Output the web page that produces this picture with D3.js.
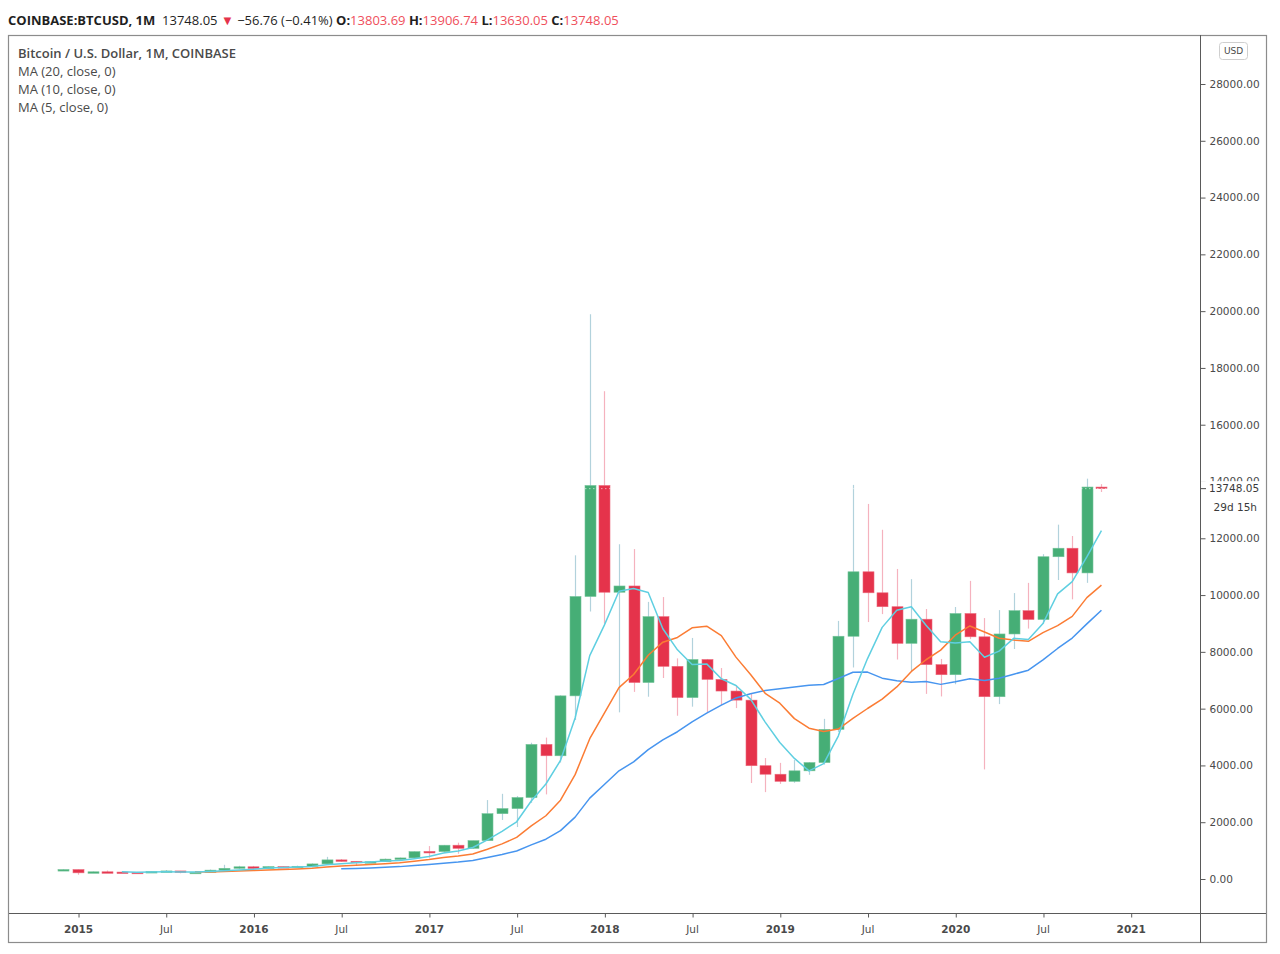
<!DOCTYPE html>
<html>
<head>
<meta charset="utf-8">
<script src="https://cdnjs.cloudflare.com/ajax/libs/d3/7.8.5/d3.min.js"></script>
<style>
  body { margin: 0; background: #fff; }
  svg { display: block; }
</style>
</head>
<body>
<svg id="chart" width="1280" height="954"></svg>
<script>
// monthly candles, Dec 2014 .. Nov 2020
var months = ["2014-12",
  "2015-01","2015-02","2015-03","2015-04","2015-05","2015-06","2015-07","2015-08","2015-09","2015-10","2015-11","2015-12",
  "2016-01","2016-02","2016-03","2016-04","2016-05","2016-06","2016-07","2016-08","2016-09","2016-10","2016-11","2016-12",
  "2017-01","2017-02","2017-03","2017-04","2017-05","2017-06","2017-07","2017-08","2017-09","2017-10","2017-11","2017-12",
  "2018-01","2018-02","2018-03","2018-04","2018-05","2018-06","2018-07","2018-08","2018-09","2018-10","2018-11","2018-12",
  "2019-01","2019-02","2019-03","2019-04","2019-05","2019-06","2019-07","2019-08","2019-09","2019-10","2019-11","2019-12",
  "2020-01","2020-02","2020-03","2020-04","2020-05","2020-06","2020-07","2020-08","2020-09","2020-10","2020-11"];

var open = [300,
  332,217,254,244,236,230,263,284,230,236,312,377,
  430,368,437,416,448,531,673,624,573,608,700,742,
  970,965,1190,1080,1350,2300,2480,2870,4740,4340,6450,9950,
  13860,10100,10320,6920,9240,7490,6390,7730,7030,6620,6300,3990,
  3690,3440,3810,4100,5270,8550,10820,10080,9590,8300,9150,7550,
  7195,9350,8530,6420,8630,9450,9140,11350,11650,10780,13803.69];

var high = [345,
  334,265,300,261,248,268,318,285,244,334,500,465,
  460,445,440,470,550,780,703,624,630,720,755,975,
  1160,1200,1280,1350,2780,3000,2920,4800,4980,6470,11400,19892,
  17180,11790,11620,9760,9930,7770,8490,7750,7430,6830,6550,4260,
  4090,4190,4120,5640,9090,13880,13210,12300,10920,10560,9510,7750,
  9580,10500,9190,9470,10070,10430,11440,12480,12080,14100,13906.74];

var low = [296,
  150,212,236,214,227,221,253,200,225,236,300,350,
  350,365,395,412,436,528,600,470,565,602,680,740,
  750,920,890,1060,1340,2080,1830,2680,2980,4100,5600,9420,
  9000,5870,6590,6420,7080,5750,6070,5880,6130,6020,3380,3060,
  3350,3390,3670,4030,5180,7450,9050,9330,7730,7300,6520,6430,
  6860,8450,3860,6160,8100,8820,8980,10530,9850,10430,13630.05];

var close = [332,
  217,254,244,236,230,263,284,230,236,312,377,430,
  368,437,416,448,531,673,624,573,608,700,742,963,
  965,1190,1080,1350,2300,2480,2870,4740,4340,6450,9950,13860,
  10100,10320,6920,9240,7490,6390,7730,7030,6620,6300,3990,3690,
  3440,3810,4100,5270,8550,10820,10080,9590,8300,9150,7550,7195,
  9350,8530,6420,8630,9450,9140,11350,11650,10780,13804.81,13748.05];

var maPeriods = [20, 10, 5];
var maColors = ["#4795ef", "#fb7c34", "#5fcfe1"];
var priceTicks = d3.range(0, 28001, 2000);

(function() {
var upColor = "#46ae76", downColor = "#e5334b";
var upWick = "#b2d2dc", downWick = "#f5b2be";
var fontAxis = "'DejaVu Sans', Verdana, sans-serif";
var fontHead = "'Open Sans', 'Noto Sans', sans-serif";

var svg = d3.select("#chart");
var frameL = 9, frameR = 1266, frameT = 35, frameB = 943;
var plotR = 1200, plotB = 913;

var x = d3.scaleLinear().domain([0, 73]).range([63.4, 1130.7]);
var y = d3.scaleLinear().domain([0, 28000]).range([879, 84]);
var bodyW = 11;
var n = close.length;

var candles = months.map(function(m, i) {
  return { i: i, m: m, o: open[i], h: high[i], l: low[i], c: close[i] };
});

function sma(p) {
  var out = [];
  for (var i = p - 1; i < n; i++) {
    out.push({ i: i, v: d3.mean(close.slice(i - p + 1, i + 1)) });
  }
  return out;
}

svg.append("defs").append("clipPath").attr("id", "plotclip")
  .append("rect").attr("x", frameL).attr("y", frameT)
  .attr("width", plotR - frameL).attr("height", plotB - frameT);

var plot = svg.append("g").attr("clip-path", "url(#plotclip)");

// candles
var cx = d => Math.round(x(d.i)) + 0.5;
plot.selectAll("line.wick").data(candles).join("line")
  .attr("class", "wick")
  .attr("x1", cx).attr("x2", cx)
  .attr("y1", d => y(d.h)).attr("y2", d => y(d.l))
  .attr("stroke", d => d.c >= d.o ? upWick : downWick)
  .attr("stroke-width", 1.2);

plot.selectAll("rect.body").data(candles).join("rect")
  .attr("class", "body")
  .attr("x", d => cx(d) - bodyW / 2)
  .attr("width", bodyW)
  .attr("y", d => y(Math.max(d.o, d.c)))
  .attr("height", d => Math.max(1.5, Math.abs(y(d.o) - y(d.c))))
  .attr("fill", d => d.c >= d.o ? upColor : downColor)
  .attr("stroke", d => d.c >= d.o ? "#74c39a" : "#ec6a7d")
  .attr("stroke-width", 0.6);

// last price dotted line
var last = close[n - 1];
plot.append("line")
  .attr("x1", frameL).attr("x2", plotR)
  .attr("y1", y(last)).attr("y2", y(last))
  .attr("stroke", "#ffffff").attr("stroke-opacity", 0.55)
  .attr("stroke-dasharray", "1.5,2.5").attr("stroke-width", 1);

// MA lines
var line = d3.line().x(d => x(d.i)).y(d => y(d.v));
maPeriods.forEach(function(p, k) {
  plot.append("path")
    .datum(sma(p))
    .attr("d", line)
    .attr("fill", "none")
    .attr("stroke", maColors[k])
    .attr("stroke-width", 1.5)
    .attr("stroke-linejoin", "round");
});

// frame
svg.append("rect")
  .attr("x", frameL - 0.5).attr("y", frameT + 0.5)
  .attr("width", frameR - frameL + 1).attr("height", frameB - frameT - 1)
  .attr("fill", "none").attr("stroke", "#8c8c8c").attr("stroke-width", 1.2);
svg.append("line").attr("x1", plotR + 0.5).attr("x2", plotR + 0.5)
  .attr("y1", frameT).attr("y2", frameB).attr("stroke", "#5a5a5a");
svg.append("line").attr("x1", frameL).attr("x2", frameR)
  .attr("y1", plotB + 0.5).attr("y2", plotB + 0.5).attr("stroke", "#5a5a5a");

// time axis
var xAxis = d3.axisBottom(x)
  .tickValues(d3.range(1, 74, 6))
  .tickSize(4)
  .tickPadding(8)
  .tickFormat(function(i) {
    return (i + 11) % 12 === 0 ? String(2014 + Math.floor((i + 11) / 12)) : "Jul";
  });
var gx = svg.append("g").attr("transform", "translate(0," + (plotB + 0.5) + ")").call(xAxis);
gx.select(".domain").remove();
gx.selectAll(".tick line").attr("stroke", "#5a5a5a").attr("transform", "translate(0.5,0)");
gx.selectAll(".tick text")
  .attr("fill", "#4a4a4a")
  .style("font-family", fontAxis)
  .style("font-size", "10.5px")
  .style("font-weight", i => (i + 11) % 12 === 0 ? "bold" : "normal");

// price axis
var yAxis = d3.axisRight(y)
  .tickValues(priceTicks)
  .tickSize(5)
  .tickPadding(4)
  .tickFormat(d3.format(".2f"));
var gy = svg.append("g").attr("transform", "translate(" + (plotR + 0.5) + ",0)").call(yAxis);
gy.select(".domain").remove();
gy.selectAll(".tick line").attr("stroke", "#5a5a5a");
gy.selectAll(".tick text")
  .attr("fill", "#4a4a4a")
  .style("font-family", fontAxis)
  .style("font-size", "10.5px");

// last price label (covers part of the 14000 label, as in the original)
var ly = y(last);
svg.append("rect").attr("x", plotR + 1).attr("y", ly - 7.5)
  .attr("width", frameR - plotR - 2).attr("height", 35).attr("fill", "#fff");
svg.append("line").attr("x1", plotR + 1).attr("x2", plotR + 6)
  .attr("y1", ly).attr("y2", ly).attr("stroke", "#4a4a4a");
svg.append("text").attr("x", plotR + 9).attr("y", ly).attr("dy", "0.35em")
  .attr("fill", "#3a3a3a")
  .style("font-family", fontAxis).style("font-size", "10.5px")
  .text(d3.format(".2f")(last));
svg.append("text").attr("x", 1257).attr("y", ly + 19).attr("dy", "0.35em")
  .attr("text-anchor", "end")
  .attr("fill", "#3a3a3a")
  .style("font-family", fontAxis).style("font-size", "10.5px")
  .text("29d 15h");

// USD badge
svg.append("rect").attr("x", 1219.5).attr("y", 42.5).attr("width", 28).attr("height", 17)
  .attr("rx", 3).attr("fill", "#fff").attr("stroke", "#cfcfcf");
svg.append("text").attr("x", 1233.5).attr("y", 51).attr("dy", "0.35em")
  .attr("text-anchor", "middle").attr("fill", "#4a4a4a")
  .style("font-family", fontAxis).style("font-size", "9px")
  .text("USD");

// header
var f2 = d3.format(".2f");
var chg = last - close[n - 2];
var pct = chg / close[n - 2] * 100;
var red = "#ef4f5c", ink = "#1f1f1f";
var parts = [
  ["COINBASE:BTCUSD, 1M", "bold", ink],
  ["  " + f2(last) + " ", "normal", ink],
  ["\u25BC", "normal", downColor],
  [" \u2212" + f2(Math.abs(chg)) + " (\u2212" + f2(Math.abs(pct)) + "%) ", "normal", ink],
  ["O:", "bold", ink], [f2(open[n - 1]) + " ", "normal", red],
  ["H:", "bold", ink], [f2(high[n - 1]) + " ", "normal", red],
  ["L:", "bold", ink], [f2(low[n - 1]) + " ", "normal", red],
  ["C:", "bold", ink], [f2(close[n - 1]), "normal", red]
];
var head = svg.append("text").attr("x", 8).attr("y", 20).attr("dy", "0.35em")
  .attr("xml:space", "preserve")
  .style("font-family", fontHead).style("font-size", "13px");
parts.forEach(function(p) {
  head.append("tspan").style("font-weight", p[1]).attr("fill", p[2]).text(p[0]);
});

// legend
var legend = ["Bitcoin / U.S. Dollar, 1M, COINBASE"].concat(maPeriods.map(p => "MA (" + p + ", close, 0)"));
svg.selectAll("text.leg").data(legend).join("text")
  .attr("class", "leg")
  .attr("x", 18).attr("y", (d, i) => 53 + i * 18).attr("dy", "0.35em")
  .attr("fill", "#4a4a4a")
  .style("font-family", fontHead).style("font-size", "13px")
  .style("font-weight", (d, i) => i === 0 ? "600" : "normal")
  .text(d => d);
})();
</script>
</body>
</html>
